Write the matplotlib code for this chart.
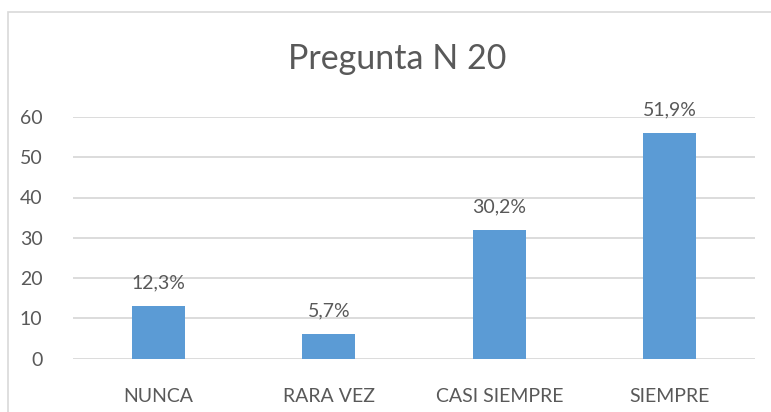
import matplotlib.pyplot as plt
from matplotlib.patches import Rectangle

# data
categorias = ['NUNCA', 'RARA VEZ', 'CASI SIEMPRE', 'SIEMPRE']
valores = [13, 6, 32, 56]
etiquetas = ['12,3%', '5,7%', '30,2%', '51,9%']
yticks = [0, 10, 20, 30, 40, 50, 60]

plt.rcParams['font.family'] = ['Lato', 'DejaVu Sans']
gris = '#595959'

fig = plt.figure(figsize=(7.71, 4.12), dpi=100)
# chart border (Excel style)
fig.patches.append(Rectangle((8 / 771, -0.1), 1.2, 1 - 12 / 412 + 0.1,
                             transform=fig.transFigure, fill=False,
                             edgecolor='#D9D9D9', linewidth=1.2))

ax = fig.add_axes([73 / 771, (412 - 358.5) / 412, 682 / 771, 241.5 / 412])
x = range(len(categorias))
ax.bar(x, valores, width=0.31, color='#5B9BD5', zorder=3)
for i, (v, t) in enumerate(zip(valores, etiquetas)):
    ax.text(i, v + 3.6, t, ha='center', va='bottom', fontsize=14, color=gris)

ax.set_xlim(-0.5, 3.5)
ax.set_ylim(0, 60)
ax.set_yticks(yticks)
ax.set_xticks(list(x))
ax.set_xticklabels(categorias)
ax.tick_params(axis='both', length=0, labelsize=14, labelcolor=gris)
ax.tick_params(axis='y', pad=22)
ax.tick_params(axis='x', pad=21)
ax.yaxis.grid(True, color='#D9D9D9', linewidth=1.3, zorder=0)
ax.set_axisbelow(True)
for s in ax.spines.values():
    s.set_visible(False)

fig.text(397 / 771, 1 - 59 / 412, 'Pregunta N 20', ha='center', va='center',
         fontsize=24.5, color=gris)

fig.savefig('out.png', dpi=100)
